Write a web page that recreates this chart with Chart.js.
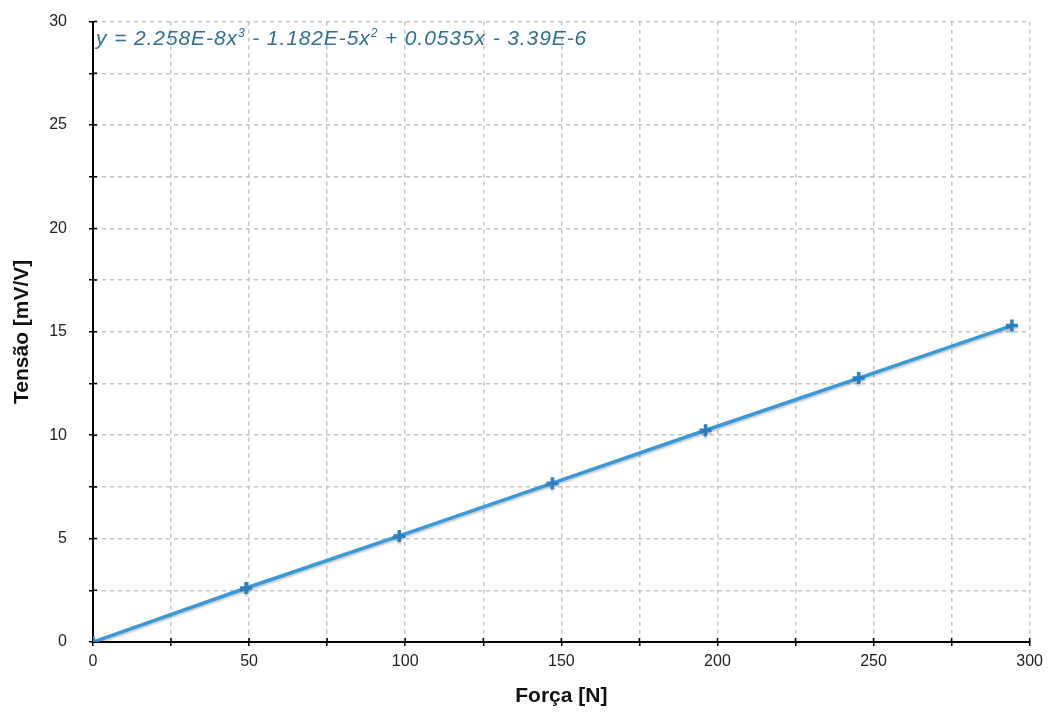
<!DOCTYPE html>
<html>
<head>
<meta charset="utf-8">
<script src="https://cdn.jsdelivr.net/npm/chart.js@4"></script>
<style>
  html, body { margin: 0; padding: 0; background: #fff; }
  #wrap { position: relative; width: 1049px; height: 715px; overflow: hidden; }
  #myChart { position: absolute; left: 0; top: -10px; }
  #eq {
    position: absolute;
    font-family: "Liberation Sans", Arial, sans-serif;
    font-style: italic;
    font-size: 21px;
    letter-spacing: 0.9px;
    color: #2f6f93;
    white-space: nowrap;
  }
  #eq sup { font-size: 12px; vertical-align: 8px; }
</style>
</head>
<body>
<div id="wrap">
  <canvas id="myChart" width="1049" height="725"></canvas>
  <div id="eq">y = 2.258E-8x<sup>3</sup> - 1.182E-5x<sup>2</sup> + 0.0535x - 3.39E-6</div>
</div>
<script>
// valores
const forca = [0, 49.05, 98.1, 147.15, 196.2, 245.25, 294.3]; // N
const tensao = [0, 2.61, 5.13, 7.68, 10.24, 12.76, 15.30]; // mV/V

const xTicks = [0, 50, 100, 150, 200, 250, 300];
const yTicks = [0, 5, 10, 15, 20, 25, 30];

const pontos = forca.map((f, i) => ({ x: f, y: tensao[i] }));

// sombra leve da linha
const sombra = {
  id: 'sombra',
  beforeDatasetDraw(chart) {
    const c = chart.ctx;
    c.save();
    c.shadowColor = 'rgba(0,0,0,0.22)';
    c.shadowBlur = 2;
    c.shadowOffsetY = 2;
  },
  afterDatasetDraw(chart) {
    chart.ctx.restore();
  }
};

// posiciona a equação no canto do gráfico (canvas deslocado 10px para cima)
const equacao = {
  id: 'equacao',
  afterLayout(chart) {
    const eq = document.getElementById('eq');
    eq.style.left = (chart.chartArea.left + 3) + 'px';
    eq.style.top = (chart.chartArea.top - 10 + 4) + 'px';
  }
};

// pequenos traços para dentro dos eixos
const tracos = {
  id: 'tracos',
  afterDraw(chart) {
    const c = chart.ctx;
    const sx = chart.scales.x, sy = chart.scales.y;
    c.save();
    c.strokeStyle = '#000';
    c.lineWidth = 1.5;
    c.beginPath();
    for (let v = 25; v <= 300; v += 25) {
      const px = sx.getPixelForValue(v);
      c.moveTo(px, sy.bottom);
      c.lineTo(px, sy.bottom - 4);
    }
    for (let v = 2.5; v <= 30; v += 2.5) {
      const py = sy.getPixelForValue(v);
      c.moveTo(sx.left, py);
      c.lineTo(sx.left + 4, py);
    }
    c.stroke();
    c.restore();
  }
};

const fonte = '"Liberation Sans", Arial, sans-serif';

new Chart(document.getElementById('myChart'), {
  type: 'scatter',
  data: {
    datasets: [{
      data: pontos,
      showLine: true,
      borderColor: '#3a9ad9',
      borderWidth: 3.5,
      pointStyle: 'cross',
      pointRadius: 6,
      pointBorderWidth: 3.5,
      pointBorderColor: '#2a80c4',
      pointBackgroundColor: '#2a80c4'
    }]
  },
  options: {
    responsive: false,
    animation: false,
    layout: { padding: { top: 10, right: 19, left: 0, bottom: 0 } },
    plugins: { legend: { display: false }, tooltip: { enabled: false } },
    scales: {
      x: {
        type: 'linear',
        min: 0,
        max: 300,
        afterFit(s) { s.height = 73; },
        afterBuildTicks(s) {
          s.ticks = [];
          for (let v = 0; v <= 300; v += 25) s.ticks.push({ value: v });
        },
        ticks: {
          callback: v => xTicks.includes(v) ? v : '',
          color: '#222',
          font: { family: fonte, size: 16 },
          padding: 6,
          maxRotation: 0,
          autoSkip: false
        },
        grid: {
          color: '#c4c4c4',
          lineWidth: 1.5,
          tickLength: 4,
          tickColor: '#000',
          tickWidth: 1.5
        },
        border: { display: true, color: '#000', width: 2, dash: [4, 4] },
        title: {
          display: true,
          text: 'Força [N]',
          color: '#111',
          font: { family: fonte, size: 21, weight: 'bold' },
          padding: { top: 4, bottom: 6 }
        }
      },
      y: {
        type: 'linear',
        min: 0,
        max: 30,
        afterFit(s) { s.width = 93; },
        afterBuildTicks(s) {
          s.ticks = [];
          for (let v = 0; v <= 30; v += 2.5) s.ticks.push({ value: v });
        },
        ticks: {
          callback: v => yTicks.includes(v) ? v : '',
          color: '#222',
          font: { family: fonte, size: 16 },
          padding: 22,
          autoSkip: false
        },
        grid: {
          color: '#c4c4c4',
          lineWidth: 1.5,
          tickLength: 4,
          tickColor: '#000',
          tickWidth: 1.5
        },
        border: { display: true, color: '#000', width: 2, dash: [4, 4] },
        title: {
          display: true,
          text: 'Tensão [mV/V]',
          color: '#111',
          font: { family: fonte, size: 21, weight: 'bold' },
          padding: { top: 10, bottom: 4 }
        }
      }
    }
  },
  plugins: [sombra, equacao, tracos]
});
</script>
</body>
</html>
